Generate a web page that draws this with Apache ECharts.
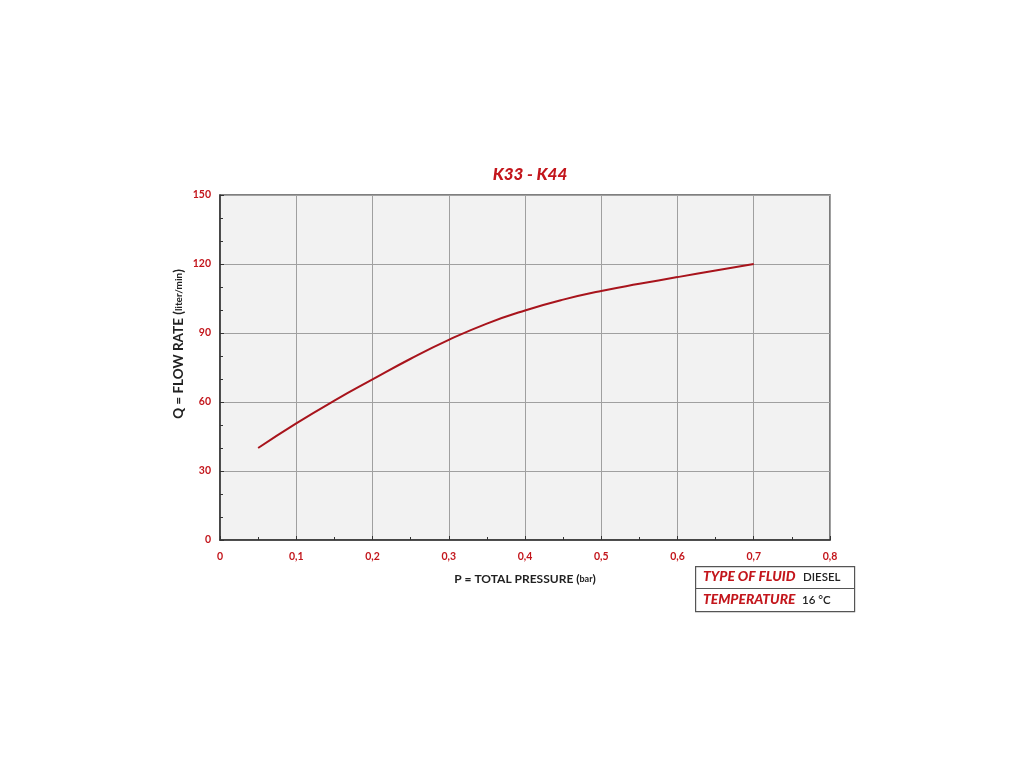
<!DOCTYPE html>
<html>
<head>
<meta charset="utf-8">
<script src="https://cdn.jsdelivr.net/npm/echarts@6/dist/echarts.min.js"></script>
<style>html,body{margin:0;padding:0;background:#fff;}#c{width:1024px;height:768px;}</style>
</head>
<body>
<div id="c"></div>
<script>
const pressure = [0.05, 0.1, 0.15, 0.2, 0.25, 0.3, 0.35, 0.4, 0.45, 0.5, 0.55, 0.6, 0.65, 0.7];
const flowRate = [40, 50.7, 60.6, 69.8, 78.8, 87, 94.1, 99.8, 104.5, 108.3, 111.4, 114.3, 117.2, 120];
const xTicks = ['0', '0,1', '0,2', '0,3', '0,4', '0,5', '0,6', '0,7', '0,8'];
const yTicks = ['0', '30', '60', '90', '120', '150'];
const tableRows = [['TYPE OF FLUID', 'DIESEL'], ['TEMPERATURE', '16 °C']];
const xName = 'P = TOTAL PRESSURE (';
const xUnit = 'bar';
const yName = 'Q = FLOW RATE (';
const yUnit = 'liter/min';

const RED = '#c3161c';
const FONT = 'Lato, "Open Sans", sans-serif';
const chart = echarts.init(document.getElementById('c'));

const graphics = [
  { type: 'rect', left: 695, top: 566, shape: { width: 159, height: 45 },
    style: { fill: '#fff', stroke: '#555', lineWidth: 1.2 } },
  { type: 'line', shape: { x1: 695, y1: 588.5, x2: 854, y2: 588.5 }, style: { stroke: '#555', lineWidth: 1.2 } },
  { type: 'text', x: 179, y: 344, rotation: Math.PI / 2,
    style: { text: yName + '{s|' + yUnit + '})', fill: '#222', align: 'center', verticalAlign: 'middle',
      font: 'bold 13.5px ' + FONT,
      rich: { s: { fontSize: 10, fontWeight: 'bold', fill: '#222', fontFamily: FONT } } } }
];
tableRows.forEach((r, i) => {
  graphics.push({ type: 'text', left: 703, top: 570 + i * 23,
    style: { text: r[0], fill: RED, font: 'italic 900 13.8px ' + FONT } });
});
graphics.push({ type: 'text', left: 803, top: 571, style: { text: tableRows[0][1], fill: '#222', font: '600 11.5px ' + FONT } });
graphics.push({ type: 'text', left: 802, top: 594, style: { text: tableRows[1][1], fill: '#222', font: '600 11.5px ' + FONT } });

chart.setOption({
  animation: false,
  backgroundColor: '#fff',
  title: {
    text: 'K33 - K44', left: 525, top: 161, textAlign: 'center',
    textStyle: { color: RED, fontFamily: FONT, fontStyle: 'italic', fontWeight: 900, fontSize: 17 }
  },
  grid: { left: 220, right: 194, top: 195, bottom: 228, show: true,
    backgroundColor: '#f2f2f2', borderColor: '#555', borderWidth: 1.5 },
  xAxis: {
    type: 'value', min: 0, max: 0.8, interval: 0.1,
    name: xName + '{s|' + xUnit + '})', nameLocation: 'middle', nameGap: 33,
    nameTextStyle: { color: '#222', fontFamily: FONT, fontWeight: 'bold', fontSize: 12,
      rich: { s: { fontSize: 9, fontWeight: 'bold', color: '#222', fontFamily: FONT } } },
    axisLine: { lineStyle: { color: '#333', width: 1.5 } },
    axisTick: { show: true, length: 4, inside: true, lineStyle: { color: '#333' } },
    minorTick: { show: true, splitNumber: 2, length: 3, lineStyle: { color: '#333' } },
    splitLine: { show: true, lineStyle: { color: '#a0a0a0', width: 1 } },
    axisLabel: { color: RED, fontFamily: FONT, fontWeight: 'bold', fontSize: 10.5, margin: 11,
      formatter: (v) => xTicks[Math.round(v * 10)] }
  },
  yAxis: {
    type: 'value', min: 0, max: 150, interval: 30,
    axisLine: { show: true, lineStyle: { color: '#333', width: 1.5 } },
    axisTick: { show: true, length: 4, inside: true, lineStyle: { color: '#333' } },
    minorTick: { show: true, splitNumber: 3, length: 3, lineStyle: { color: '#333' } },
    splitLine: { show: true, lineStyle: { color: '#a0a0a0', width: 1 } },
    axisLabel: { color: RED, fontFamily: FONT, fontWeight: 'bold', fontSize: 10.5, margin: 9,
      formatter: (v) => yTicks[Math.round(v / 30)] }
  },
  series: [{
    type: 'line', smooth: 0.5, showSymbol: false,
    data: pressure.map((p, i) => [p, flowRate[i]]),
    lineStyle: { color: '#a8141c', width: 2 }
  }],
  graphic: graphics
});
</script>
</body>
</html>
